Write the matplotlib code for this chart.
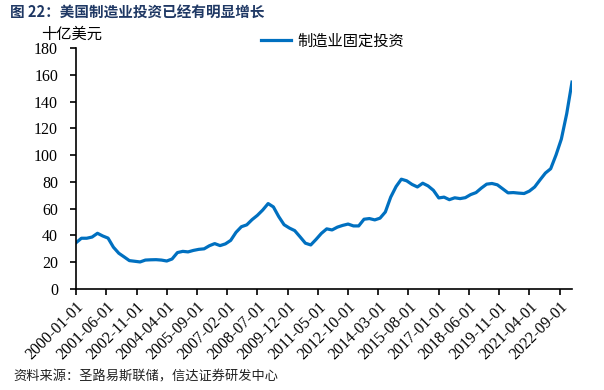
import matplotlib
matplotlib.use("Agg")
import matplotlib.pyplot as plt
import pandas as pd

plt.rcParams["font.family"] = ["Liberation Serif", "DejaVu Serif"]

# Quarterly data, billions USD
start_date = "2000-01-01"
values = [
    34.6, 37.9, 37.9, 38.8, 41.6, 39.6, 38.0, 31.2, 26.7, 24.0,
    21.2, 20.7, 20.2, 21.6, 21.8, 21.9, 21.6, 20.9, 22.4, 27.2,
    28.1, 27.7, 28.8, 29.6, 30.0, 32.3, 33.9, 32.4, 33.7, 36.3,
    42.3, 46.5, 47.9, 51.8, 55.0, 59.0, 63.8, 61.3, 54.1, 48.0,
    45.5, 43.6, 39.0, 34.2, 32.9, 37.0, 41.5, 44.9, 44.1, 46.2,
    47.5, 48.5, 47.1, 47.1, 52.1, 52.6, 51.6, 52.9, 57.5, 68.6,
    76.5, 82.0, 80.8, 78.1, 76.2, 79.0, 77.0, 73.7, 68.0, 68.6,
    66.7, 68.1, 67.5, 68.2, 70.5, 72.0, 75.4, 78.3, 78.8, 77.8,
    74.8, 71.8, 72.0, 71.6, 71.3, 73.1, 76.2, 81.5, 86.6, 89.8,
    100.0, 112.0, 131.0, 154.5,
]
dates = pd.date_range(start_date, periods=len(values), freq="QS")

tick_labels = [
    "2000-01-01", "2001-06-01", "2002-11-01", "2004-04-01", "2005-09-01",
    "2007-02-01", "2008-07-01", "2009-12-01", "2011-05-01", "2012-10-01",
    "2014-03-01", "2015-08-01", "2017-01-01", "2018-06-01", "2019-11-01",
    "2021-04-01", "2022-09-01",
]
y_ticks = [0, 20, 40, 60, 80, 100, 120, 140, 160, 180]

title = "图 22：美国制造业投资已经有明显增长"
unit = "十亿美元"
series_name = "制造业固定投资"
source = "资料来源：圣路易斯联储，信达证券研发中心"

cjk = ["Noto Sans CJK SC", "DejaVu Sans"]

fig = plt.figure(figsize=(6.04, 3.90), dpi=100)
ax = fig.add_axes([0.126, 0.259, 0.821, 0.618])

line_color = "#0070C0"
ax.plot(dates, values, color=line_color, lw=2.3, label=series_name,
        solid_joinstyle="round")

ax.set_ylim(0, 180)
ax.set_yticks(y_ticks)
ax.set_yticklabels([str(v) for v in y_ticks], fontsize=11.5)

tick_dates = pd.to_datetime(tick_labels)
ax.set_xlim(dates[0], dates[-1])
ax.set_xticks(tick_dates)
ax.set_xticklabels(tick_labels, rotation=45, ha="right", rotation_mode="anchor",
                   fontsize=11.5)

for s in ["top", "right"]:
    ax.spines[s].set_visible(False)
for s in ["left", "bottom"]:
    ax.spines[s].set_color("black")
    ax.spines[s].set_linewidth(1.2)
ax.tick_params(axis="both", direction="out", length=4, width=1.2, colors="black")
ax.tick_params(axis="y", pad=9)
ax.tick_params(axis="x", pad=3)

leg = ax.legend(loc="upper left", bbox_to_anchor=(0.36, 1.09), frameon=False,
                prop={"family": cjk, "size": 11}, handlelength=2.0,
                handletextpad=0.4, borderaxespad=0)

fig.text(0.017, 0.968, title, fontfamily=cjk, fontsize=10.5, fontweight="bold",
         color="#1F3864", ha="left", va="center")
fig.text(0.068, 0.912, unit, fontfamily=cjk, fontsize=11, color="black",
         ha="left", va="center")
fig.text(0.022, 0.033, source, fontfamily=cjk, fontsize=9.5, color="#222222",
         ha="left", va="center", style="italic")

fig.savefig("out.png", dpi=100)
